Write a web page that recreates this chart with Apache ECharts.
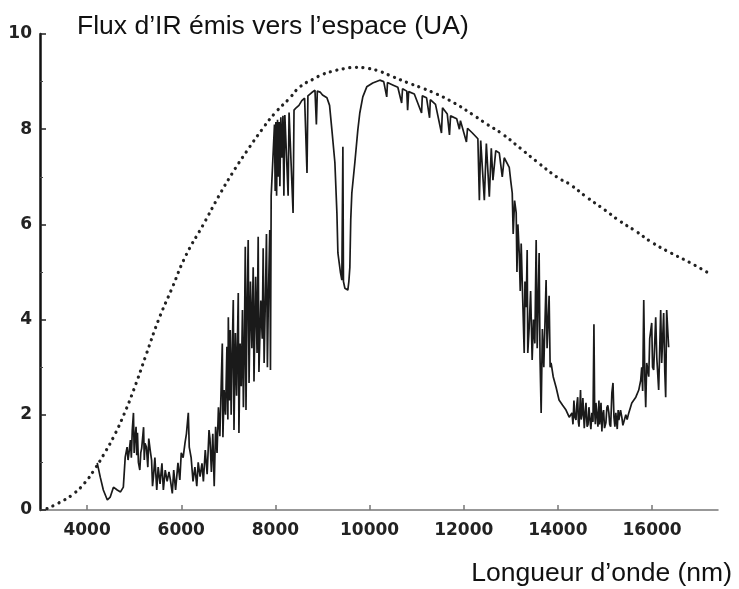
<!DOCTYPE html>
<html>
<head>
<meta charset="utf-8">
<script src="https://cdn.jsdelivr.net/npm/echarts@6/dist/echarts.min.js"></script>
<style>
  html, body { margin: 0; padding: 0; background: #fff; }
  #main { width: 739px; height: 589px; }
</style>
</head>
<body>
<div id="main"></div>
<script>
// axes
var xTicks = [4000, 6000, 8000, 10000, 12000, 14000, 16000];
var yTicks = [0, 2, 4, 6, 8, 10];

// courbe du corps noir (pointillés)
var planckWave = [3150, 3400, 3700, 3950, 4150, 4350, 4570, 4780, 5000, 5250, 5520, 5800, 6100, 6470, 6800,
    7100, 7400, 7720, 8000, 8300, 8520, 8800, 9000, 9220, 9450, 9700, 9950, 10200, 10500, 10800, 11100,
    11420, 11800, 12200, 12500, 12820, 13200, 13600, 14000, 14240, 14600, 15000, 15300, 15650, 16000,
    16400, 16800, 17160];
var planckFlux = [0.03, 0.15, 0.33, 0.57, 0.84, 1.16, 1.55, 2.0, 2.55, 3.25, 4.0, 4.65, 5.35, 6.0, 6.6,
    7.1, 7.55, 8.0, 8.35, 8.65, 8.89, 9.05, 9.15, 9.22, 9.27, 9.3, 9.28, 9.22, 9.1, 8.98, 8.87,
    8.74, 8.55, 8.3, 8.1, 7.9, 7.6, 7.28, 6.98, 6.85, 6.58, 6.3, 6.08, 5.86, 5.62,
    5.4, 5.2, 5.0];

// spectre mesuré [longueur d'onde (nm), flux]
var spectrum = [
    [4215, 0.99], [4280, 0.69], [4345, 0.42], [4430, 0.21], [4490, 0.27], [4560, 0.48], [4640, 0.42],
    [4710, 0.38], [4770, 0.48], [4810, 1.11], [4850, 1.32], [4870, 1.05], [4890, 1.20], [4920, 1.47],
    [4940, 1.10], [4960, 1.68], [4985, 2.04], [5000, 1.20], [5010, 1.40], [5040, 1.75], [5055, 1.15],
    [5070, 1.62], [5090, 1.00], [5120, 0.84], [5140, 1.20], [5160, 1.30], [5200, 1.74], [5215, 1.05],
    [5230, 1.40], [5260, 1.32], [5290, 0.90], [5310, 1.50], [5340, 1.26], [5370, 1.05], [5390, 0.50],
    [5410, 0.70], [5440, 1.10], [5480, 0.42], [5510, 0.90], [5550, 0.55], [5590, 0.98], [5620, 0.42],
    [5660, 0.84], [5700, 0.60], [5740, 0.80], [5770, 0.63], [5810, 0.35], [5840, 0.84], [5880, 0.42],
    [5930, 0.99], [5970, 0.63], [6000, 1.20], [6040, 1.10], [6080, 1.41], [6110, 1.60], [6150, 2.04],
    [6170, 1.32], [6210, 1.10], [6250, 0.60], [6290, 0.90], [6330, 0.50], [6360, 1.00], [6400, 0.70],
    [6440, 0.98], [6470, 0.60], [6510, 1.26], [6550, 0.75], [6590, 1.68], [6610, 1.50], [6640, 0.80],
    [6670, 1.60], [6700, 0.50], [6730, 1.75], [6760, 1.20], [6790, 2.16], [6820, 1.55], [6850, 2.67],
    [6872, 3.50], [6885, 1.53], [6910, 2.52], [6940, 2.00], [6970, 3.43], [6990, 1.90], [7000, 4.05],
    [7020, 2.30], [7040, 3.78], [7060, 2.00], [7080, 3.21], [7105, 4.41], [7120, 1.68], [7150, 3.72],
    [7175, 2.40], [7195, 3.60], [7211, 4.56], [7225, 1.62], [7250, 3.50], [7275, 2.60], [7300, 4.20],
    [7320, 2.16], [7340, 3.40], [7360, 5.53], [7375, 2.10], [7400, 4.40], [7422, 5.67], [7440, 2.67],
    [7470, 4.80], [7500, 3.40], [7528, 5.10], [7545, 2.70], [7580, 4.90], [7610, 3.30], [7634, 5.74],
    [7650, 2.90], [7690, 4.40], [7720, 3.60], [7740, 5.50], [7760, 3.09], [7790, 4.60], [7810, 5.80],
    [7830, 3.00], [7850, 4.40], [7880, 5.88], [7895, 2.94], [7910, 6.60], [7945, 7.35], [7980, 8.10],
    [7995, 6.70], [8010, 8.15], [8025, 6.60], [8045, 8.20], [8060, 7.00], [8080, 8.15], [8095, 6.80],
    [8115, 8.25], [8135, 7.40], [8160, 8.28], [8180, 6.60], [8200, 8.30], [8230, 8.32], [8270, 6.60],
    [8290, 8.35], [8330, 8.38], [8375, 6.24], [8395, 8.40], [8440, 8.45], [8500, 8.50], [8560, 8.60],
    [8620, 8.65], [8671, 7.08], [8690, 8.70], [8760, 8.76], [8840, 8.82], [8870, 8.10], [8890, 8.80],
    [8950, 8.78], [9000, 8.72], [9094, 8.66], [9150, 8.50], [9200, 7.98], [9263, 7.30], [9306, 6.24],
    [9327, 5.40], [9380, 5.00], [9411, 4.83], [9433, 7.63], [9445, 4.80], [9475, 4.66], [9538, 4.62],
    [9560, 4.80], [9581, 5.10], [9600, 6.10], [9623, 6.66], [9687, 7.30], [9750, 7.98], [9792, 8.34],
    [9856, 8.68], [9940, 8.89], [10067, 8.97], [10216, 9.03], [10300, 9.00], [10364, 8.68], [10380, 8.98],
    [10491, 8.93], [10600, 8.88], [10681, 8.55], [10700, 8.85], [10790, 8.80], [10808, 8.40], [10830, 8.79],
    [10950, 8.74], [11104, 8.34], [11120, 8.70], [11210, 8.66], [11274, 8.24], [11290, 8.62], [11400, 8.52],
    [11527, 7.92], [11549, 8.45], [11650, 8.32], [11697, 7.88], [11720, 8.28], [11850, 8.22], [11908, 8.00],
    [11930, 8.18], [12057, 7.73], [12080, 8.02], [12184, 7.92], [12300, 7.80], [12332, 6.51], [12360, 7.76],
    [12437, 6.51], [12480, 7.70], [12543, 6.58], [12585, 7.60], [12620, 6.93], [12680, 7.55], [12755, 7.50],
    [12818, 7.00], [12860, 7.40], [12966, 7.20], [13000, 6.90], [13030, 6.66], [13050, 5.80], [13080, 6.50],
    [13114, 6.24], [13130, 5.00], [13150, 6.00], [13178, 5.40], [13200, 4.60], [13220, 5.60], [13241, 4.83],
    [13284, 3.30], [13300, 4.80], [13326, 4.26], [13347, 5.46], [13360, 3.30], [13390, 3.84], [13420, 4.60],
    [13453, 3.15], [13480, 4.00], [13510, 3.50], [13538, 5.67], [13560, 3.40], [13601, 5.40], [13620, 3.20],
    [13644, 2.04], [13670, 3.80], [13700, 3.00], [13749, 4.83], [13770, 3.40], [13813, 4.50], [13835, 3.00],
    [13855, 3.09], [13900, 2.80], [13961, 2.58], [14024, 2.31], [14100, 2.20], [14172, 2.10], [14240, 1.95],
    [14299, 2.04], [14320, 1.80], [14340, 2.30], [14360, 1.95], [14384, 1.89], [14400, 2.20], [14420, 2.37],
    [14435, 1.85], [14448, 1.75], [14465, 2.10], [14480, 2.52], [14495, 1.90], [14511, 2.00], [14530, 2.35],
    [14560, 1.72], [14580, 2.05], [14596, 2.25], [14620, 1.75], [14640, 1.80], [14659, 2.16], [14680, 1.90],
    [14700, 1.70], [14722, 2.04], [14745, 1.85], [14765, 3.90], [14780, 2.10], [14795, 1.80], [14807, 2.25],
    [14830, 2.00], [14850, 1.75], [14871, 2.30], [14885, 1.80], [14900, 1.95], [14915, 2.25], [14934, 1.65],
    [14950, 2.00], [14970, 2.10], [14990, 1.72], [15019, 1.83], [15040, 2.15], [15060, 2.20], [15082, 2.04],
    [15100, 1.80], [15120, 1.75], [15146, 2.46], [15170, 2.67], [15190, 1.95], [15210, 1.75], [15230, 2.04],
    [15260, 1.70], [15280, 2.10], [15294, 1.89], [15330, 2.10], [15357, 1.95], [15380, 1.78], [15400, 1.80],
    [15442, 2.00], [15470, 1.90], [15505, 2.04], [15569, 2.25], [15654, 2.37], [15717, 2.52], [15759, 2.73],
    [15780, 3.00], [15800, 2.50], [15823, 4.41], [15845, 2.80], [15865, 2.16], [15886, 3.09], [15929, 2.80],
    [15950, 3.60], [15971, 3.63], [15992, 3.93], [16010, 3.00], [16034, 2.94], [16077, 4.05], [16100, 3.20],
    [16140, 2.52], [16183, 4.20], [16204, 3.09], [16246, 4.14], [16270, 2.90], [16289, 2.37], [16310, 4.20],
    [16352, 3.42]
];

var myChart = echarts.init(document.getElementById('main'));

var planckData = [];
for (var i = 0; i < planckWave.length; i++) {
    planckData.push([planckWave[i], planckFlux[i]]);
}

var labelFont = {
    fontFamily: 'DejaVu Sans',
    fontWeight: 'bold',
    fontSize: 17,
    color: '#222'
};

var option = {
    backgroundColor: '#fff',
    animation: false,
    title: [
        {
            text: 'Flux d’IR émis vers l’espace (UA)',
            left: 72,
            top: 8,
            textStyle: { fontFamily: 'Liberation Sans', fontWeight: 'normal', fontSize: 26.5, color: '#111' }
        },
        {
            text: 'Longueur d’onde (nm)',
            right: 2,
            top: 555,
            textStyle: { fontFamily: 'Liberation Sans', fontWeight: 'normal', fontSize: 26.5, color: '#111' }
        }
    ],
    grid: { left: 40, right: 21, top: 34, bottom: 79 },
    xAxis: {
        type: 'value',
        min: 3000,
        max: 17400,
        axisLine: { show: true, onZero: false, lineStyle: { color: '#777', width: 1.5 } },
        axisTick: { show: true, inside: true, length: 5, customValues: xTicks, lineStyle: { color: '#777', width: 1.5 } },
        axisLabel: Object.assign({
            margin: 12,
            customValues: xTicks,
            formatter: function (v) { return String(v); }
        }, labelFont),
        splitLine: { show: false }
    },
    yAxis: {
        type: 'value',
        min: 0,
        max: 10,
        interval: 2,
        axisLine: { show: true, lineStyle: { color: '#111', width: 2.5 } },
        axisTick: { show: true, inside: true, length: 6, lineStyle: { color: '#222', width: 1.5 } },
        minorTick: { show: true, splitNumber: 2, length: 3, lineStyle: { color: '#444', width: 1 } },
        axisLabel: Object.assign({ margin: 8 }, labelFont),
        splitLine: { show: false }
    },
    series: [
        {
            name: 'corps noir',
            type: 'line',
            data: planckData,
            smooth: true,
            showSymbol: false,
            lineStyle: { color: '#222', width: 3.2, type: [0.1, 6.5], cap: 'round' }
        },
        {
            name: 'spectre',
            type: 'line',
            data: spectrum,
            showSymbol: false,
            lineStyle: { color: '#1a1a1a', width: 1.7 }
        }
    ]
};
myChart.setOption(option);
</script>
</body>
</html>
